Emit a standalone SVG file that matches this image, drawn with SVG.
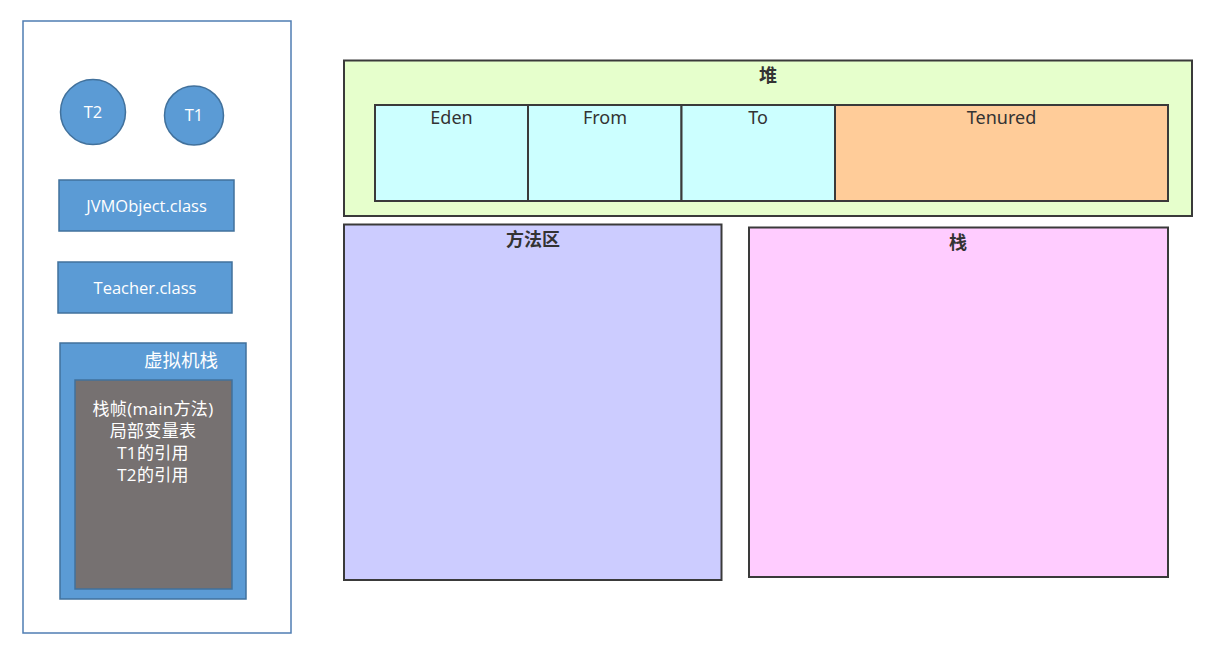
<svg xmlns="http://www.w3.org/2000/svg" width="1205" height="647" viewBox="0 0 1205 647">
<style>
.blue{fill:#5b9bd5;stroke:#41719c;stroke-width:1.5}
.wt{fill:#ffffff;font-family:"Open Sans","Noto Sans","Noto Sans CJK SC",sans-serif;text-anchor:middle}
.area{stroke:#3a3a3a;stroke-width:2}
.lbl{fill:#333333;font-family:"Noto Sans","Noto Sans CJK SC",sans-serif;font-size:18px;text-anchor:middle}
.ttl{fill:#333333;font-family:"Noto Sans CJK SC",sans-serif;font-size:18px;font-weight:bold;text-anchor:middle}
</style>
<rect width="1205" height="647" fill="#ffffff"/>
<g id="jvm">
<rect x="23" y="21" width="268" height="612" fill="#ffffff" stroke="#4f7db3" stroke-width="1.5"/>
</g>
<g id="t2"><circle cx="93" cy="112" r="32.5" class="blue"/><text x="93" y="118" class="wt" font-size="16.5">T2</text></g>
<g id="t1"><circle cx="194" cy="115.5" r="29.5" class="blue"/><text x="194" y="121" class="wt" font-size="16.5">T1</text></g>
<g id="jvmobject"><rect x="59" y="180" width="175" height="51" class="blue"/><text x="146.5" y="212" class="wt" font-size="16.5">JVMObject.class</text></g>
<g id="teacher"><rect x="58" y="262" width="174" height="51" class="blue"/><text x="145" y="294" class="wt" font-size="16.5">Teacher.class</text></g>
<g id="vmstack">
<rect x="60" y="343" width="186" height="256" class="blue"/>
<text x="181" y="367" class="wt" font-size="18.5">虚拟机栈</text>
<rect x="75" y="380" width="157" height="209" fill="#767171" stroke="#41719c" stroke-width="1.5"/>
<text x="153" y="415" class="wt" font-size="17" letter-spacing="0.3">栈帧(main方法)</text>
<text x="153" y="437" class="wt" font-size="17" letter-spacing="0.3">局部变量表</text>
<text x="153" y="459" class="wt" font-size="17" letter-spacing="0.3">T1的引用</text>
<text x="153" y="481" class="wt" font-size="17" letter-spacing="0.3">T2的引用</text>
</g>
<g id="heap">
<rect x="344" y="60.5" width="848" height="155.5" fill="#e6ffcc" class="area"/>
<text x="768" y="82" class="ttl">堆</text>
</g>
<g id="eden"><rect x="375" y="105" width="153" height="96" fill="#ccffff" class="area"/><text x="451.5" y="124" class="lbl">Eden</text></g>
<g id="from"><rect x="528" y="105" width="153.5" height="96" fill="#ccffff" class="area"/><text x="605" y="124" class="lbl">From</text></g>
<g id="to"><rect x="681.5" y="105" width="153.5" height="96" fill="#ccffff" class="area"/><text x="758" y="124" class="lbl">To</text></g>
<g id="tenured"><rect x="835" y="105" width="333" height="96" fill="#ffcc99" class="area"/><text x="1001.5" y="124" class="lbl">Tenured</text></g>
<g id="method"><rect x="344" y="224.5" width="377.5" height="355.5" fill="#ccccff" class="area"/><text x="533" y="246" class="ttl">方法区</text></g>
<g id="stack"><rect x="749" y="227.5" width="419" height="349.5" fill="#ffccff" class="area"/><text x="958" y="249" class="ttl">栈</text></g>
<g id="connectors"></g>
</svg>
